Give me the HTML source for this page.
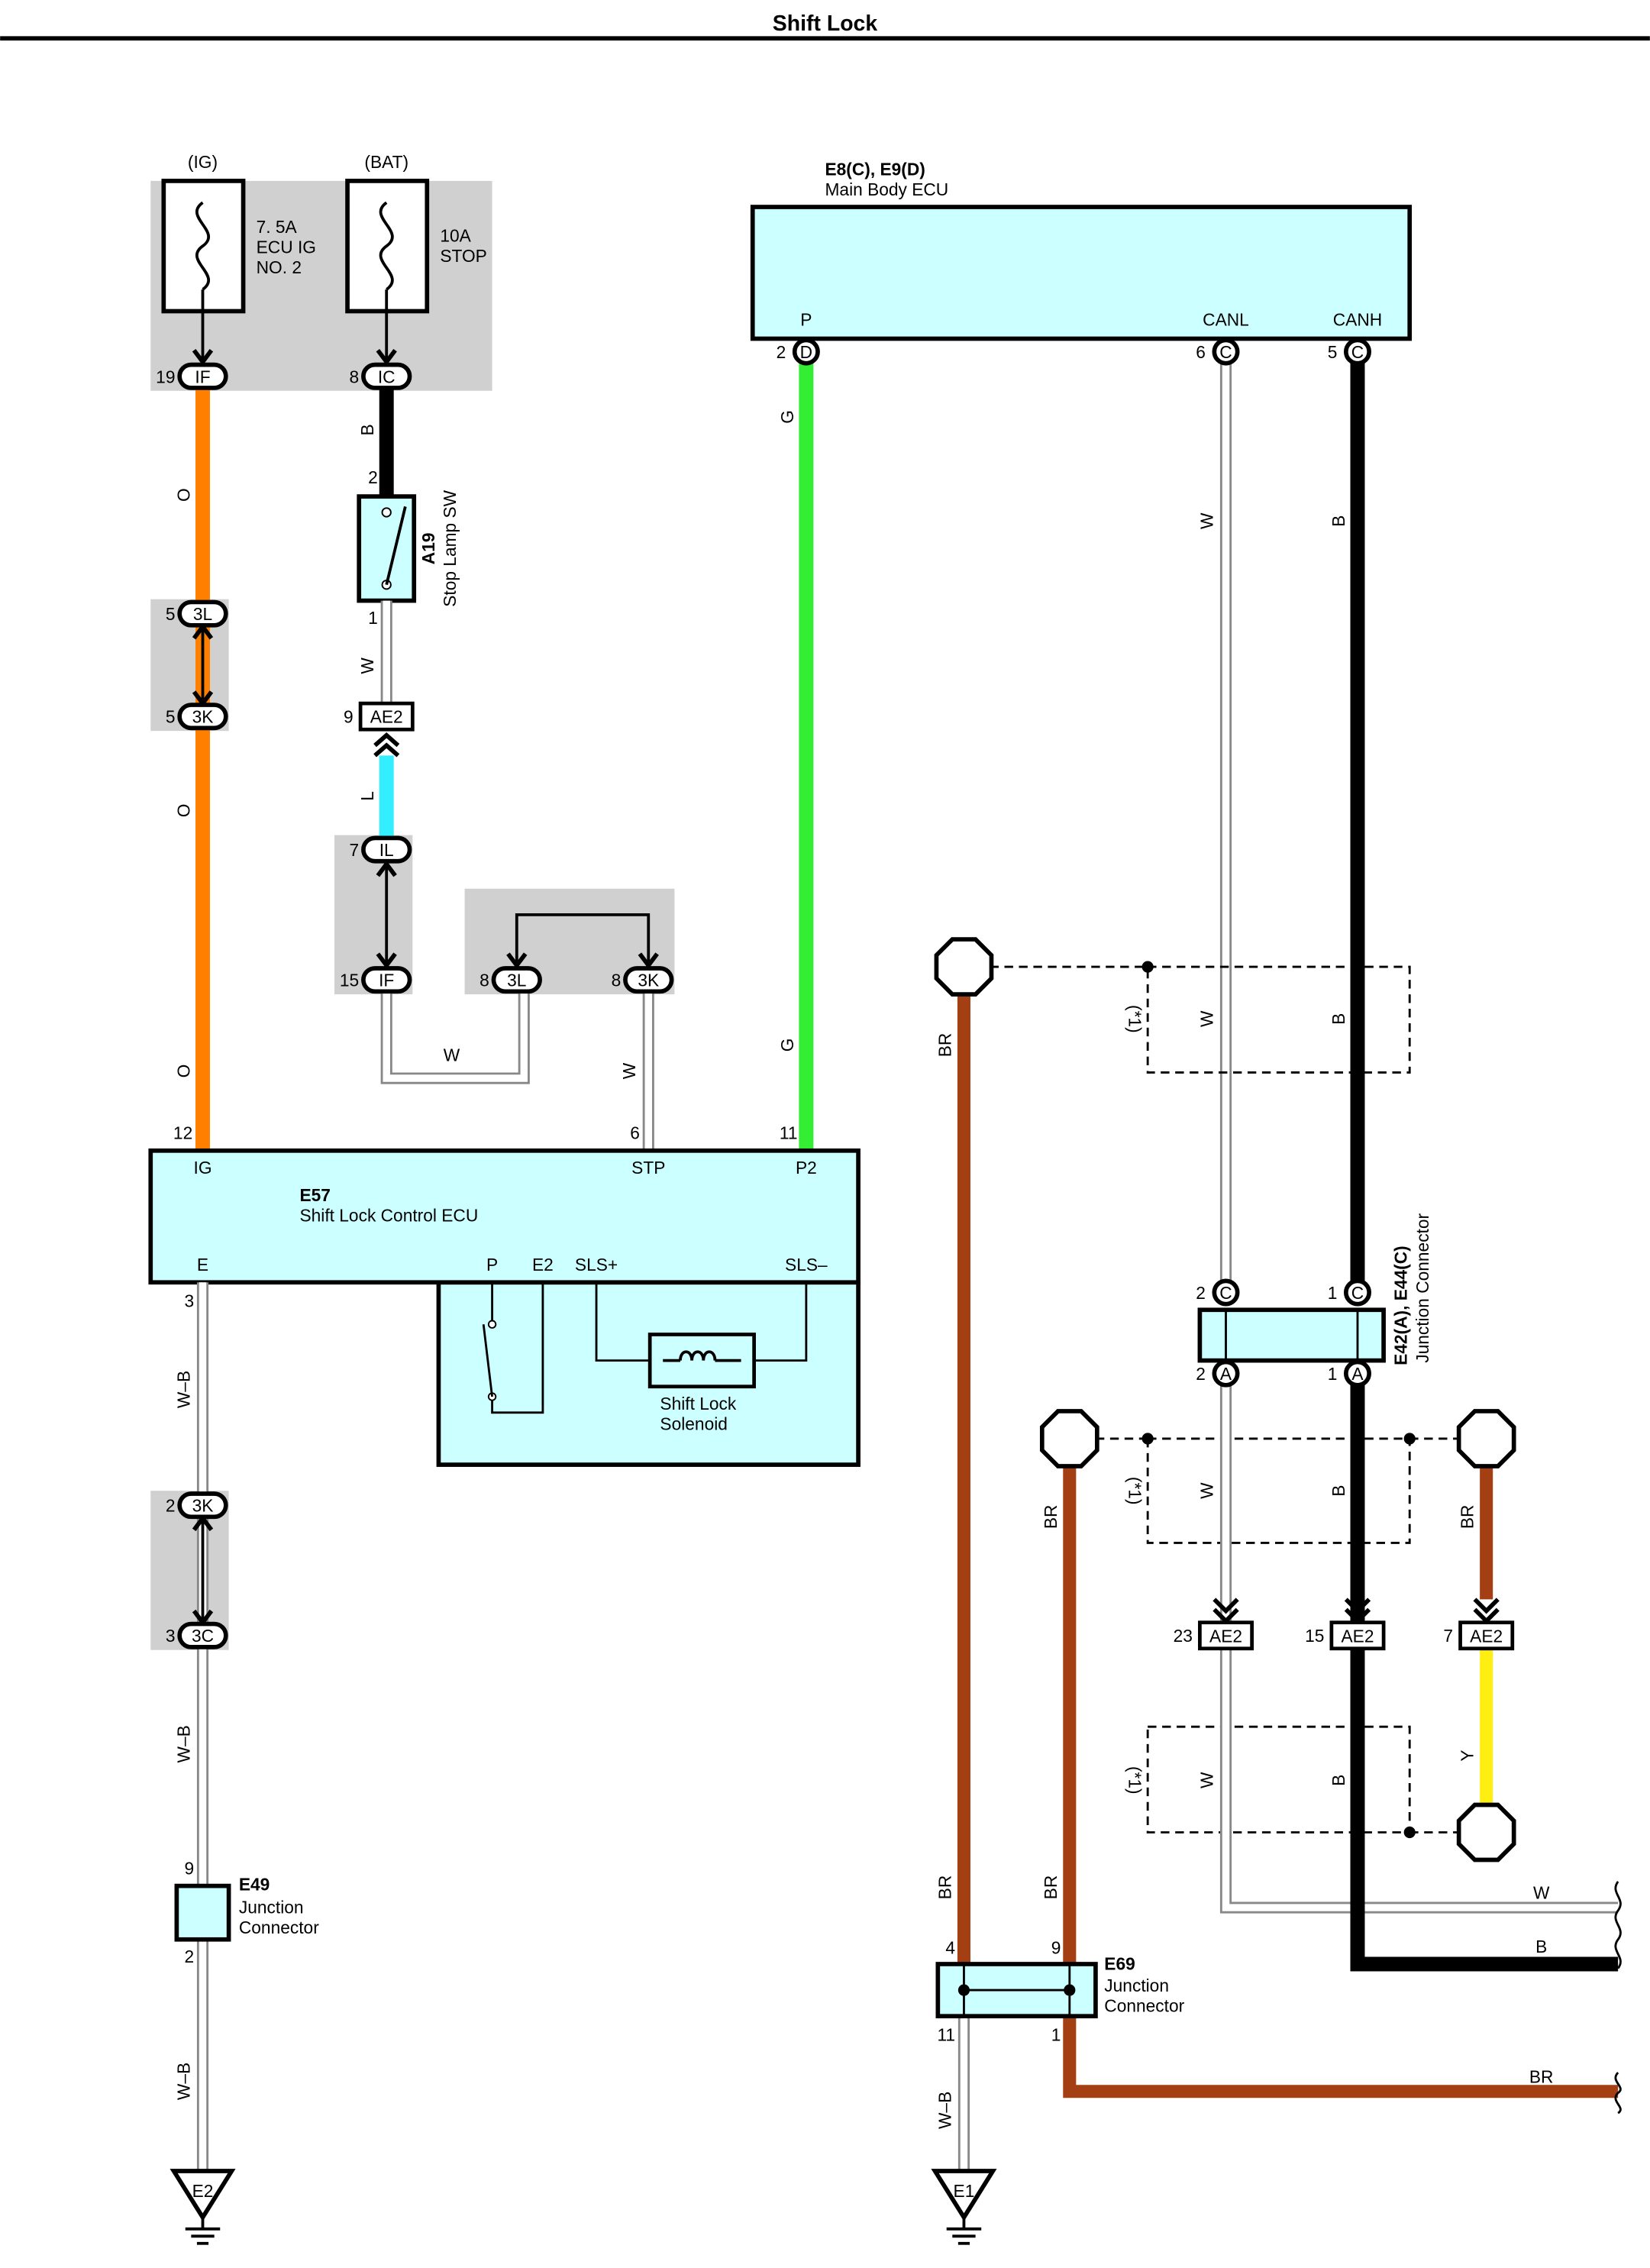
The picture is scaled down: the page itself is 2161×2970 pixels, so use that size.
<!DOCTYPE html>
<html><head><meta charset="utf-8"><style>
html,body{margin:0;padding:0;background:#fff}
svg{display:block}
text{font-family:"Liberation Sans",sans-serif;font-size:12px;fill:#000}
</style></head><body>
<svg width="2161" height="2970" viewBox="0 0 1140 1567" xmlns="http://www.w3.org/2000/svg">
<defs>
<g id="ov"><rect x="-16" y="-8" width="32" height="16" rx="8" fill="#fff" stroke="#000" stroke-width="3"/></g>
<g id="ci"><circle r="8" fill="#fff" stroke="#000" stroke-width="3"/></g>
<g id="oct"><polygon points="-8,-19 8,-19 19,-8 19,8 8,19 -8,19 -19,8 -19,-8" fill="#fff" stroke="#000" stroke-width="3"/></g>
<g id="arr"><path d="M-6,-8 L0,0 L6,-8" fill="none" stroke="#000" stroke-width="3"/></g>
<g id="ae2"><rect x="-18" y="-9" width="36" height="18" fill="#fff" stroke="#000" stroke-width="2.5"/><text x="0" y="4.5" text-anchor="middle">AE2</text></g>
<g id="gnd"><polygon points="-20,0 20,0 0,32" fill="#fff" stroke="#000" stroke-width="3"/><line x1="0" y1="32" x2="0" y2="40" stroke="#000" stroke-width="2"/><line x1="-12" y1="40" x2="12" y2="40" stroke="#000" stroke-width="2"/><line x1="-8" y1="45" x2="8" y2="45" stroke="#000" stroke-width="2"/><line x1="-4" y1="50" x2="4" y2="50" stroke="#000" stroke-width="2"/></g>
</defs>
<text x="570" y="21" text-anchor="middle" font-weight="bold" style="font-size:15px">Shift Lock</text>
<rect x="0" y="25" width="1140" height="3" fill="#000"/>

<rect x="104" y="125" width="236" height="145" fill="#d0d0d0"/>
<rect x="104" y="414" width="54" height="91" fill="#d0d0d0"/>
<rect x="231" y="577" width="54" height="110" fill="#d0d0d0"/>
<rect x="321" y="614" width="145" height="73" fill="#d0d0d0"/>
<rect x="104" y="1030" width="54" height="110" fill="#d0d0d0"/>

<text x="140" y="116" text-anchor="middle">(IG)</text>
<text x="267" y="116" text-anchor="middle">(BAT)</text>
<rect x="113" y="125" width="55" height="90" fill="#fff" stroke="#000" stroke-width="3"/>
<rect x="240" y="125" width="55" height="90" fill="#fff" stroke="#000" stroke-width="3"/>
<path d="M140,140 c-14,10 14,20 0,30 c-14,10 14,20 0,30" fill="none" stroke="#000" stroke-width="2"/>
<path d="M267,140 c-14,10 14,20 0,30 c-14,10 14,20 0,30" fill="none" stroke="#000" stroke-width="2"/>
<text x="177" y="161">7. 5A</text><text x="177" y="175">ECU IG</text><text x="177" y="189">NO. 2</text>
<text x="304" y="167">10A</text><text x="304" y="181">STOP</text>
<line x1="140" y1="200" x2="140" y2="250" stroke="#000" stroke-width="2"/>
<line x1="267" y1="200" x2="267" y2="250" stroke="#000" stroke-width="2"/>
<use href="#arr" x="140" y="250"/><use href="#arr" x="267" y="250"/>

<line x1="140" y1="268" x2="140" y2="795" stroke="#ff7f00" stroke-width="10"/>
<line x1="140" y1="432" x2="140" y2="487" stroke="#000" stroke-width="2"/>
<use href="#arr" x="140" y="486"/>
<path d="M134,441 L140,433 L146,441" fill="none" stroke="#000" stroke-width="3"/>
<use href="#ov" x="140" y="260"/><text x="140" y="264.5" text-anchor="middle">IF</text><text x="121" y="264.5" text-anchor="end">19</text>
<use href="#ov" x="140" y="424"/><text x="140" y="428.5" text-anchor="middle">3L</text><text x="121" y="428.5" text-anchor="end">5</text>
<use href="#ov" x="140" y="495"/><text x="140" y="499.5" text-anchor="middle">3K</text><text x="121" y="499.5" text-anchor="end">5</text>
<text transform="translate(131,342) rotate(-90)" text-anchor="middle">O</text>
<text transform="translate(131,560) rotate(-90)" text-anchor="middle">O</text>
<text transform="translate(131,740) rotate(-90)" text-anchor="middle">O</text>
<text x="133" y="787" text-anchor="end">12</text>

<line x1="267" y1="268" x2="267" y2="343" stroke="#000" stroke-width="10"/>
<use href="#ov" x="267" y="260"/><text x="267" y="264.5" text-anchor="middle">IC</text><text x="248" y="264.5" text-anchor="end">8</text>
<text transform="translate(258,297) rotate(-90)" text-anchor="middle">B</text>
<text x="261" y="334" text-anchor="end">2</text>
<rect x="248" y="343" width="38" height="72" fill="#ccffff" stroke="#000" stroke-width="3"/>
<circle cx="267" cy="354" r="3" fill="#fff" stroke="#000"/><circle cx="267" cy="404" r="3" fill="#fff" stroke="#000"/>
<line x1="267" y1="404" x2="280" y2="350" stroke="#000" stroke-width="2"/>
<text transform="translate(300,379) rotate(-90)" text-anchor="middle" font-weight="bold">A19</text>
<text transform="translate(315,379) rotate(-90)" text-anchor="middle">Stop Lamp SW</text>
<text x="261" y="431" text-anchor="end">1</text>
<line x1="267" y1="415" x2="267" y2="487" stroke="#888" stroke-width="8"/><line x1="267" y1="415" x2="267" y2="487" stroke="#fff" stroke-width="5"/>
<text transform="translate(258,460) rotate(-90)" text-anchor="middle">W</text>
<use href="#ae2" x="267" y="495"/><text x="244" y="499.5" text-anchor="end">9</text>
<path d="M259,515 L267,508 L275,515 M259,522 L267,515 L275,522" fill="none" stroke="#000" stroke-width="3"/>
<line x1="267" y1="522" x2="267" y2="578" stroke="#33eeff" stroke-width="10"/>
<text transform="translate(258,550) rotate(-90)" text-anchor="middle">L</text>
<line x1="267" y1="596" x2="267" y2="668" stroke="#000" stroke-width="2"/>
<use href="#arr" x="267" y="667"/>
<path d="M261,605 L267,597 L273,605" fill="none" stroke="#000" stroke-width="3"/>
<use href="#ov" x="267" y="587"/><text x="267" y="591.5" text-anchor="middle">IL</text><text x="248" y="591.5" text-anchor="end">7</text>
<path d="M267,685 V745 H362 V685" fill="none" stroke="#888" stroke-width="8"/>
<path d="M267,685 V745 H362 V685" fill="none" stroke="#fff" stroke-width="5"/>
<use href="#ov" x="267" y="677"/><text x="267" y="681.5" text-anchor="middle">IF</text><text x="248" y="681.5" text-anchor="end">15</text>
<text x="312" y="733" text-anchor="middle">W</text>
<path d="M357,668 V632 H448 V668" fill="none" stroke="#000" stroke-width="2"/>
<use href="#arr" x="357" y="667"/><use href="#arr" x="448" y="667"/>
<line x1="448" y1="685" x2="448" y2="795" stroke="#888" stroke-width="8"/><line x1="448" y1="685" x2="448" y2="795" stroke="#fff" stroke-width="5"/>
<use href="#ov" x="357" y="677"/><text x="357" y="681.5" text-anchor="middle">3L</text><text x="338" y="681.5" text-anchor="end">8</text>
<use href="#ov" x="448" y="677"/><text x="448" y="681.5" text-anchor="middle">3K</text><text x="429" y="681.5" text-anchor="end">8</text>
<text transform="translate(439,740) rotate(-90)" text-anchor="middle">W</text>
<text x="442" y="787" text-anchor="end">6</text>

<text x="570" y="121" font-weight="bold">E8(C), E9(D)</text>
<text x="570" y="135">Main Body ECU</text>
<rect x="520" y="143" width="454" height="91" fill="#ccffff" stroke="#000" stroke-width="3"/>
<text x="557" y="225" text-anchor="middle">P</text>
<text x="847" y="225" text-anchor="middle">CANL</text>
<text x="938" y="225" text-anchor="middle">CANH</text>
<line x1="557" y1="250" x2="557" y2="795" stroke="#33ee33" stroke-width="10"/>
<text transform="translate(548,288) rotate(-90)" text-anchor="middle">G</text>
<text transform="translate(548,722) rotate(-90)" text-anchor="middle">G</text>
<text x="551" y="787" text-anchor="end">11</text>
<line x1="847" y1="250" x2="847" y2="885" stroke="#888" stroke-width="8"/><line x1="847" y1="250" x2="847" y2="885" stroke="#fff" stroke-width="5"/>
<line x1="938" y1="250" x2="938" y2="885" stroke="#000" stroke-width="10"/>
<use href="#ci" x="557" y="243"/><text x="557" y="247.5" text-anchor="middle">D</text><text x="543" y="247.5" text-anchor="end">2</text>
<use href="#ci" x="847" y="243"/><text x="847" y="247.5" text-anchor="middle">C</text><text x="833" y="247.5" text-anchor="end">6</text>
<use href="#ci" x="938" y="243"/><text x="938" y="247.5" text-anchor="middle">C</text><text x="924" y="247.5" text-anchor="end">5</text>
<text transform="translate(838,360) rotate(-90)" text-anchor="middle">W</text>
<text transform="translate(929,360) rotate(-90)" text-anchor="middle">B</text>

<rect x="303" y="886" width="290" height="126" fill="#ccffff" stroke="#000" stroke-width="3"/>
<rect x="104" y="795" width="489" height="91" fill="#ccffff" stroke="#000" stroke-width="3"/>
<text x="140" y="811" text-anchor="middle">IG</text>
<text x="448" y="811" text-anchor="middle">STP</text>
<text x="557" y="811" text-anchor="middle">P2</text>
<text x="207" y="830" font-weight="bold">E57</text>
<text x="207" y="844">Shift Lock Control ECU</text>
<text x="140" y="878" text-anchor="middle">E</text>
<text x="340" y="878" text-anchor="middle">P</text>
<text x="375" y="878" text-anchor="middle">E2</text>
<text x="412" y="878" text-anchor="middle">SLS+</text>
<text x="557" y="878" text-anchor="middle">SLS–</text>
<path d="M340,886 V915 M340,965 V976 H375 V886" fill="none" stroke="#000" stroke-width="1.5"/>
<circle cx="340" cy="915" r="2.5" fill="#fff" stroke="#000"/><circle cx="340" cy="965" r="2.5" fill="#fff" stroke="#000"/>
<line x1="340" y1="965" x2="334" y2="915" stroke="#000" stroke-width="1.5"/>
<path d="M412,886 V940 H449 M521,940 H557 V886" fill="none" stroke="#000" stroke-width="1.5"/>
<rect x="449" y="922" width="72" height="36" fill="#ccffff" stroke="#000" stroke-width="2.5"/>
<path d="M470,940 c0,-8 8,-8 8,0 c0,-8 8,-8 8,0 c0,-8 8,-8 8,0 M458,940 H470 M494,940 H512" fill="none" stroke="#000" stroke-width="2"/>
<text x="456" y="974">Shift Lock</text><text x="456" y="988">Solenoid</text>

<line x1="140" y1="886" x2="140" y2="1500" stroke="#888" stroke-width="8"/><line x1="140" y1="886" x2="140" y2="1500" stroke="#fff" stroke-width="5"/>
<text x="134" y="903" text-anchor="end">3</text>
<text transform="translate(131,960) rotate(-90)" text-anchor="middle">W–B</text>
<line x1="140" y1="1048" x2="140" y2="1122" stroke="#000" stroke-width="2"/>
<use href="#arr" x="140" y="1121"/>
<path d="M134,1057 L140,1049 L146,1057" fill="none" stroke="#000" stroke-width="3"/>
<use href="#ov" x="140" y="1040"/><text x="140" y="1044.5" text-anchor="middle">3K</text><text x="121" y="1044.5" text-anchor="end">2</text>
<use href="#ov" x="140" y="1130"/><text x="140" y="1134.5" text-anchor="middle">3C</text><text x="121" y="1134.5" text-anchor="end">3</text>
<text transform="translate(131,1205) rotate(-90)" text-anchor="middle">W–B</text>
<text x="134" y="1295" text-anchor="end">9</text>
<rect x="122" y="1303" width="36" height="37" fill="#ccffff" stroke="#000" stroke-width="3"/>
<text x="165" y="1306" font-weight="bold">E49</text><text x="165" y="1322">Junction</text><text x="165" y="1336">Connector</text>
<text x="134" y="1356" text-anchor="end">2</text>
<text transform="translate(131,1438) rotate(-90)" text-anchor="middle">W–B</text>
<use href="#gnd" x="140" y="1500"/><text x="140" y="1518" text-anchor="middle">E2</text>

<g fill="none" stroke="#000" stroke-width="1.5" stroke-dasharray="6,4">
<path d="M684,668 H793"/>
<rect x="793" y="668" width="181" height="73"/>
<path d="M757,994 H793 M974,994 H1009"/>
<rect x="793" y="994" width="181" height="72"/>
<rect x="793" y="1193" width="181" height="73"/>
<path d="M974,1266 H1009"/>
</g>
<circle cx="793" cy="668" r="4"/><circle cx="793" cy="994" r="4"/><circle cx="974" cy="994" r="4"/><circle cx="974" cy="1266" r="4"/>
<text transform="translate(780,704) rotate(90)" text-anchor="middle">(*1)</text>
<text transform="translate(780,1030) rotate(90)" text-anchor="middle">(*1)</text>
<text transform="translate(780,1230) rotate(90)" text-anchor="middle">(*1)</text>
<text transform="translate(838,704) rotate(-90)" text-anchor="middle">W</text>
<text transform="translate(929,704) rotate(-90)" text-anchor="middle">B</text>

<line x1="666" y1="686" x2="666" y2="1357" stroke="#a33f12" stroke-width="9"/>
<path d="M739,1012 V1445 H1118" fill="none" stroke="#a33f12" stroke-width="9"/>
<line x1="1027" y1="1012" x2="1027" y2="1105" stroke="#a33f12" stroke-width="9"/>
<line x1="1027" y1="1140" x2="1027" y2="1248" stroke="#ffee11" stroke-width="9"/>
<use href="#oct" x="666" y="668"/><use href="#oct" x="739" y="994"/><use href="#oct" x="1027" y="994"/><use href="#oct" x="1027" y="1266"/>
<text transform="translate(657,722) rotate(-90)" text-anchor="middle">BR</text>
<text transform="translate(730,1048) rotate(-90)" text-anchor="middle">BR</text>
<text transform="translate(1018,1048) rotate(-90)" text-anchor="middle">BR</text>
<text transform="translate(1018,1213) rotate(-90)" text-anchor="middle">Y</text>
<text transform="translate(657,1304) rotate(-90)" text-anchor="middle">BR</text>
<text transform="translate(730,1304) rotate(-90)" text-anchor="middle">BR</text>

<path d="M847,949 V1318 H1118" fill="none" stroke="#888" stroke-width="8"/>
<path d="M847,949 V1318 H1118" fill="none" stroke="#fff" stroke-width="5"/>
<path d="M938,949 V1357 H1118" fill="none" stroke="#000" stroke-width="10"/>
<rect x="829" y="905" width="127" height="35" fill="#ccffff" stroke="#000" stroke-width="3"/>
<line x1="847" y1="905" x2="847" y2="940" stroke="#000" stroke-width="1.5"/>
<line x1="938" y1="905" x2="938" y2="940" stroke="#000" stroke-width="1.5"/>
<use href="#ci" x="847" y="893"/><text x="847" y="897.5" text-anchor="middle">C</text><text x="833" y="897.5" text-anchor="end">2</text>
<use href="#ci" x="938" y="893"/><text x="938" y="897.5" text-anchor="middle">C</text><text x="924" y="897.5" text-anchor="end">1</text>
<use href="#ci" x="847" y="949"/><text x="847" y="953.5" text-anchor="middle">A</text><text x="833" y="953.5" text-anchor="end">2</text>
<use href="#ci" x="938" y="949"/><text x="938" y="953.5" text-anchor="middle">A</text><text x="924" y="953.5" text-anchor="end">1</text>
<text transform="translate(972,902) rotate(-90)" text-anchor="middle" font-weight="bold">E42(A), E44(C)</text>
<text transform="translate(987,890) rotate(-90)" text-anchor="middle">Junction Connector</text>
<text transform="translate(838,1030) rotate(-90)" text-anchor="middle">W</text>
<text transform="translate(929,1030) rotate(-90)" text-anchor="middle">B</text>
<text transform="translate(838,1230) rotate(-90)" text-anchor="middle">W</text>
<text transform="translate(929,1230) rotate(-90)" text-anchor="middle">B</text>
<path d="M839,1105 L847,1113 L855,1105 M839,1112 L847,1120 L855,1112" fill="none" stroke="#000" stroke-width="3"/>
<path d="M930,1105 L938,1113 L946,1105 M930,1112 L938,1120 L946,1112" fill="none" stroke="#000" stroke-width="3"/>
<path d="M1019,1105 L1027,1113 L1035,1105 M1019,1112 L1027,1120 L1035,1112" fill="none" stroke="#000" stroke-width="3"/>
<use href="#ae2" x="847" y="1130"/><text x="824" y="1134.5" text-anchor="end">23</text>
<use href="#ae2" x="938" y="1130"/><text x="915" y="1134.5" text-anchor="end">15</text>
<use href="#ae2" x="1027" y="1130"/><text x="1004" y="1134.5" text-anchor="end">7</text>
<text x="1065" y="1312" text-anchor="middle">W</text>
<text x="1065" y="1349" text-anchor="middle">B</text>
<text x="1065" y="1439" text-anchor="middle">BR</text>
<path d="M1118,1300 c-6,8 6,12 0,20 c-6,8 6,12 0,20 c-6,8 6,12 0,20" fill="none" stroke="#000" stroke-width="1.5"/>
<path d="M1118,1432 c-6,6 6,10 0,14 c-6,6 6,10 0,14" fill="none" stroke="#000" stroke-width="1.5"/>

<line x1="666" y1="1393" x2="666" y2="1500" stroke="#888" stroke-width="8"/><line x1="666" y1="1393" x2="666" y2="1500" stroke="#fff" stroke-width="5"/>
<text x="660" y="1350" text-anchor="end">4</text>
<text x="733" y="1350" text-anchor="end">9</text>
<rect x="648" y="1357" width="109" height="36" fill="#ccffff" stroke="#000" stroke-width="3"/>
<line x1="666" y1="1375" x2="739" y2="1375" stroke="#000" stroke-width="1.5"/>
<line x1="666" y1="1357" x2="666" y2="1393" stroke="#000" stroke-width="1.5"/>
<line x1="739" y1="1357" x2="739" y2="1393" stroke="#000" stroke-width="1.5"/>
<circle cx="666" cy="1375" r="4"/><circle cx="739" cy="1375" r="4"/>
<text x="763" y="1361" font-weight="bold">E69</text><text x="763" y="1376">Junction</text><text x="763" y="1390">Connector</text>
<text x="660" y="1410" text-anchor="end">11</text>
<text x="733" y="1410" text-anchor="end">1</text>
<text transform="translate(657,1458) rotate(-90)" text-anchor="middle">W–B</text>
<use href="#gnd" x="666" y="1500"/><text x="666" y="1518" text-anchor="middle">E1</text>
</svg>
</body></html>
